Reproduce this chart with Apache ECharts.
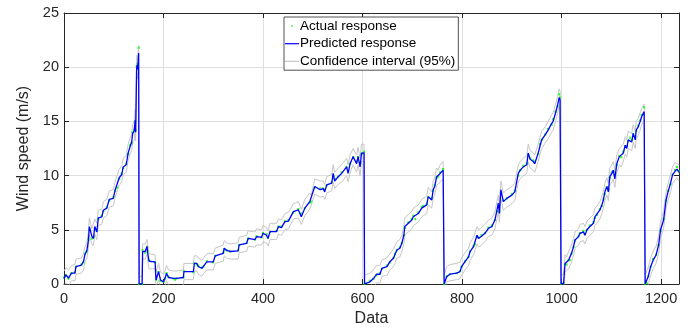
<!DOCTYPE html>
<html>
<head>
<meta charset="utf-8">
<script src="https://cdn.jsdelivr.net/npm/echarts@6/dist/echarts.min.js"></script>
<style>html,body{margin:0;padding:0;background:#fff;}#c{width:697px;height:329px;}</style>
</head>
<body>
<div id="c"></div>
<script>
const xs = [0,4,9,15,22,24,35,39,42,46, 49,51,56,59,62,66,69,76,79,86, 91,99,103,107,111,116,119,125,129,133, 136,138,141,143,144,146,147,148,150,151,
157,158,163,167,168,171,183,185,190,194, 200,203,206,210,220,223,226,240,241,260, 262,267,270,277,280,287,300,304,320,322, 327,334,350,352,367,370,384,387,397,400,
407,410,414,427,431,437,444,451,461,471, 477,484,494,497,504,515,521,524,528,538, 541,544,551,558,568,571,575,581,588,591, 595,598,603,604,607,615,622,628,635,639,
649,655,662,665,669,675,679,683,685,692, 699,702,706,712,719,722,729,732,739,742, 745,749,752,756,762,764,769,776,789,796, 799,806,813,816,823,826,830,833,839,846,
853,860,866,870,873,875,878,883,890,900, 906,913,917,923,930,933,937,943,946,953, 957,960,967,973,980,983,988,992,995,997, 999,1004,1007,1010,1014,1017,1020,1024,1027,1034,
1037,1044,1047,1051,1057,1064,1067,1071,1077,1081, 1084,1087,1091,1094,1097,1101,1104,1107,1111,1116, 1120,1124,1128,1131,1134,1138,1141,1144,1148,1150, 1154,1158,1161,1166,1168,1171,1174,1179,1184,1190,
1195,1199,1205,1210,1214,1219,1223,1228,1232,1236];

const predicted = [0.5,0.85,0.55,1.0,1.0,1.6,1.75,2.05,2.7,3.1, 4.0,5.3,4.4,4.2,5.3,4.8,6.1,6.2,6.8,7.0, 7.8,7.9,8.7,8.8,9.8,10.1,10.8,11.0,12.1,12.7, 13.1,13.9,14.1,15.1,14.0,19.9,20.2,19.8,21.3,0,
0,3.0,3.0,3.45,2.9,2.1,2.05,0.37,1.14,0.37, 0.2,0.52,0.98,0.6,0.52,0.37,0.52,0.6,1.14,1.14, 1.9,1.9,1.6,1.45,1.6,2.05,2.05,2.6,2.83,3.3, 3.1,3.0,3.05,3.6,3.75,4.2,4.1,4.37,4.3,4.68,
4.5,4.2,4.83,4.83,5.3,5.2,5.75,5.8,6.68,6.83, 6.2,7.0,7.6,7.5,9.0,8.7,8.8,8.5,9.14,9.3, 10.2,9.5,9.9,10.2,10.8,10.2,11.1,11.75,11.1,11.75, 10.8,12.07,12.1,0,0.1,0.2,0.5,0.9,0.9,1.45,
1.6,2.06,2.37,2.7,3.14,3.3,3.75,4.5,5.3,5.6, 5.9,6.2,6.1,6.5,7.0,7.0,7.3,8.06,7.75,8.7, 9.0,9.9,9.75,10.2,10.5,0,0.67,0.92,1.0,1.14, 1.6,2.06,2.5,2.98,3.45,3.6,4.5,4.2,4.4,4.68,
5.14,5.3,5.9,6.8,7.45,6.5,8.7,7.6,7.9,8.2, 8.5,10.2,10.5,10.8,11.0,12.07,11.5,11.3,11.1,12.07, 12.8,13.3,13.75,14.2,14.8,15.0,15.8,16.5,17.2,17.0, 0,0.05,1.9,1.75,2.2,2.1,2.83,3.45,4.06,4.37,
4.68,4.8,4.5,5.0,5.3,5.6,6.2,6.37,6.83,7.3, 7.75,8.5,9.0,8.5,9.9,10.2,10.5,9.7,11.1,11.75, 11.6,12.07,12.8,12.5,13.3,13.4,13.1,13.9,13.3,14.2, 14.5,15.0,15.45,15.9,0,0.12,0.67,1.6,2.2,2.68,
3.6,5.0,5.9,7.75,8.5,9.3,10.07,10.4,10.6,10.3];

const actual = [0.6,0.8,0.5,1.0,1.1,1.6,1.8,2.0,2.8,3.0, 4.1,5.0,4.2,4.3,5.1,4.9,6.0,6.3,6.7,7.1, 7.7,8.0,8.6,8.9,9.7,10.2,10.7,11.1,12.0,12.8, 13.0,14.0,14.2,15.0,14.2,20.1,20.0,20.3,21.8,0,
0,3.1,2.9,3.4,3.0,2.2,2.0,0.4,1.1,0.3, 0.2,0.5,1.0,0.7,0.5,0.4,0.5,0.6,1.2,1.1, 1.9,1.8,1.7,1.5,1.6,2.1,2.0,2.6,2.9,3.2, 3.1,3.0,3.1,3.6,3.8,4.2,4.1,4.4,4.3,4.7,
4.6,4.3,4.8,4.9,5.3,5.3,5.8,5.9,6.6,6.9, 6.5,7.0,7.5,7.6,8.9,8.8,8.8,8.7,9.1,9.4, 10.0,9.7,9.9,10.3,10.8,10.4,11.1,11.7,11.3,11.7, 11.2,12.0,12.2,0,0.1,0.3,0.5,0.8,1.0,1.4,
1.7,2.0,2.4,2.8,3.1,3.4,3.8,4.5,5.2,5.7, 6.0,6.3,6.0,6.6,7.1,7.2,7.4,8.0,7.9,8.6, 9.1,9.8,9.9,10.3,10.6,0,0.7,0.9,1.0,1.2, 1.6,2.1,2.5,3.0,3.5,3.7,4.4,4.3,4.5,4.7,
5.2,5.4,5.9,6.7,7.3,6.7,8.4,7.7,7.9,8.3, 8.6,10.0,10.5,10.9,11.1,11.9,11.6,11.4,11.3,12.0, 12.9,13.3,13.8,14.3,14.7,15.2,15.9,16.4,17.5,17.2, 0,0.1,1.8,1.8,2.2,2.2,2.8,3.4,4.0,4.4,
4.7,4.9,4.6,5.0,5.4,5.7,6.1,6.4,6.9,7.2, 7.8,8.3,8.9,8.7,9.8,10.3,10.4,10.0,11.0,11.8, 11.7,12.2,12.7,12.7,13.2,13.5,13.3,13.8,13.5,14.1, 14.6,15.1,15.6,16.3,0,0.1,0.7,1.6,2.3,2.7,
3.6,4.9,6.0,7.7,8.6,9.2,10.1,10.5,10.8,10.4];

const ciUpper = [1.2,1.5,1.3,1.7,1.8,2.3,2.4,2.8,3.4,3.8, 4.8,6.1,5.1,5.0,6.0,5.6,6.8,6.9,7.6,7.8, 8.6,8.7,9.5,9.6,10.6,10.9,11.6,11.8,12.9,13.5, 13.9,14.7,15.0,16.1,14.9,20.8,21.1,20.7,22.0,0.7,
0.7,3.7,3.7,4.1,3.6,2.8,2.7,1.1,1.9,1.1, 0.9,1.2,1.7,1.3,1.2,1.1,1.2,1.3,1.9,1.9, 2.6,2.6,2.4,2.2,2.3,2.8,2.8,3.3,3.6,4.0, 3.8,3.7,3.8,4.3,4.5,4.9,4.8,5.1,5.0,5.4,
5.2,4.9,5.6,5.6,6.0,5.9,6.5,6.6,7.4,7.6, 6.9,7.8,8.4,8.2,9.7,9.5,9.5,9.2,9.9,10.1, 11.0,10.3,10.7,11.0,11.6,11.0,11.9,12.5,11.9,12.6, 11.6,12.9,12.9,0.8,0.8,1.0,1.3,1.7,1.7,2.2,
2.4,2.8,3.2,3.5,3.9,4.1,4.5,5.3,6.1,6.4, 6.7,7.0,6.9,7.3,7.8,7.8,8.1,8.9,8.5,9.5, 9.8,10.7,10.5,11.0,11.3,0.8,1.6,1.8,1.9,2.0, 2.4,2.9,3.3,3.8,4.3,4.4,5.3,5.0,5.2,5.5,
5.9,6.1,6.7,7.6,8.2,7.3,9.5,8.4,8.7,9.0, 9.3,11.0,11.3,11.6,11.8,12.9,12.3,12.1,11.9,12.9, 13.6,14.1,14.5,15.0,15.6,15.8,16.6,17.3,18.0,17.8, 0.8,0.9,2.7,2.5,3.0,2.9,3.6,4.2,4.8,5.1,
5.5,5.6,5.3,5.8,6.1,6.4,7.0,7.2,7.6,8.1, 8.5,9.3,9.8,9.3,10.7,11.0,11.3,10.5,11.9,12.5, 12.4,12.9,13.6,13.3,14.1,14.2,13.9,14.7,14.1,15.0, 15.3,15.8,16.2,16.6,0.8,0.9,1.5,2.4,3.0,3.5,
4.4,5.8,6.7,8.5,9.3,10.1,10.8,11.2,11.3,11.0];

const ciLower = [-0.2,0.1,-0.2,0.3,0.3,0.9,1.0,1.3,2.0,2.4, 3.3,4.5,3.7,3.5,4.6,4.1,5.4,5.5,6.1,6.3, 7.1,7.2,8.0,8.1,9.1,9.4,10.1,10.3,11.4,12.0, 12.3,13.1,13.3,14.2,13.2,19.0,19.3,18.9,20.5,-0.7,
-0.7,2.3,2.3,2.8,2.2,1.4,1.4,-0.3,0.4,-0.3, -0.5,-0.2,0.3,-0.1,-0.2,-0.3,-0.2,-0.1,0.4,0.4, 1.2,1.2,0.9,0.7,0.9,1.3,1.3,1.9,2.1,2.6, 2.4,2.3,2.3,2.9,3.0,3.5,3.4,3.6,3.6,3.9,
3.8,3.5,4.1,4.1,4.6,4.5,5.0,5.1,6.0,6.1, 5.5,6.3,6.9,6.8,8.3,8.0,8.1,7.8,8.4,8.6, 9.4,8.8,9.2,9.4,10.0,9.4,10.3,11.0,10.3,11.0, 10.0,11.3,11.3,-0.7,-0.6,-0.6,-0.3,0.1,0.1,0.7,
0.8,1.3,1.6,1.9,2.4,2.5,3.0,3.7,4.5,4.8, 5.1,5.4,5.3,5.7,6.2,6.2,6.5,7.3,7.0,7.9, 8.2,9.1,9.0,9.4,9.7,-0.7,0.2,0.3,0.4,0.5, 0.8,1.3,1.7,2.2,2.7,2.8,3.7,3.4,3.6,3.9,
4.4,4.5,5.1,6.0,6.7,5.7,7.9,6.8,7.1,7.4, 7.7,9.4,9.7,10.0,10.2,11.3,10.7,10.5,10.3,11.3, 12.0,12.5,13.0,13.4,14.0,14.2,15.0,15.7,16.4,16.2, -0.7,-0.7,1.1,1.0,1.4,1.3,2.0,2.7,3.3,3.6,
3.9,4.0,3.7,4.2,4.5,4.8,5.4,5.6,6.0,6.5, 7.0,7.7,8.2,7.7,9.1,9.4,9.7,8.9,10.3,11.0, 10.8,11.3,12.0,11.7,12.5,12.6,12.3,13.1,12.5,13.4, 13.7,14.2,14.7,15.1,-0.7,-0.6,-0.1,0.8,1.4,1.9,
2.8,4.2,5.1,7.0,7.7,8.5,9.3,9.6,9.8,9.5];

const xTicks = [0,200,400,600,800,1000,1200];
const yTicks = [0,5,10,15,20,25];
const seriesNames = ['Actual response','Predicted response','Confidence interval (95%)'];
const xLabel = 'Data';
const yLabel = 'Wind speed (m/s)';

const pair = arr => xs.map((x, i) => [x, arr[i]]);
const FONT = '"Liberation Sans", Arial, Helvetica, sans-serif';
const TXT = '#262626';

function svgIcon(kind, color) {
  let body;
  if (kind === 'dot') body = '<rect x="6" y="6.2" width="1.6" height="1.6" fill="' + color + '"/>';
  else body = '<rect x="0" y="6.5" width="14" height="1.2" fill="' + color + '"/>';
  const svg = '<svg xmlns="http://www.w3.org/2000/svg" width="14" height="14" viewBox="0 0 14 14">' + body + '</svg>';
  return 'image://data:image/svg+xml;charset=utf-8,' + encodeURIComponent(svg);
}

const chart = echarts.init(document.getElementById('c'), null, {renderer: 'canvas'});
const xMax = 1236;
const baseX = {
  type: 'value', min: 0, max: xMax, interval: 200,
  axisLine: {show: true, onZero: false, lineStyle: {color: TXT, width: 1}},
  axisTick: {show: true, inside: true, length: 5, lineStyle: {color: TXT}},
  splitLine: {show: false}
};
const baseY = {
  type: 'value', min: 0, max: 25, interval: 5,
  axisLine: {show: true, onZero: false, lineStyle: {color: TXT, width: 1}},
  axisTick: {show: true, inside: true, length: 5, lineStyle: {color: TXT}},
  splitLine: {show: false}
};
chart.setOption({
  animation: false,
  backgroundColor: '#fff',
  grid: {left: 64, right: 18, top: 13, bottom: 45, containLabel: false, outerBoundsMode: 'none'},
  xAxis: [
    Object.assign({}, baseX, {
      position: 'bottom',
      name: xLabel, nameLocation: 'middle', nameGap: 26,
      nameTextStyle: {color: TXT, fontSize: 16, fontFamily: FONT},
      axisLabel: {show: true, margin: 7, color: TXT, fontSize: 14.5, fontFamily: FONT, showMaxLabel: false,
        formatter: v => xTicks.indexOf(v) >= 0 ? String(v) : ''},
      splitLine: {show: true, lineStyle: {color: '#dfdfdf', width: 1}}
    }),
    Object.assign({}, baseX, {position: 'top', axisLabel: {show: false}})
  ],
  yAxis: [
    Object.assign({}, baseY, {
      position: 'left',
      name: yLabel, nameLocation: 'middle', nameGap: 32, nameRotate: 90,
      nameTextStyle: {color: TXT, fontSize: 16, fontFamily: FONT},
      axisLabel: {show: true, margin: 5, color: TXT, fontSize: 14.5, fontFamily: FONT,
        formatter: v => yTicks.indexOf(v) >= 0 ? String(v) : ''},
      splitLine: {show: true, lineStyle: {color: '#dfdfdf', width: 1}}
    }),
    Object.assign({}, baseY, {position: 'right', axisLabel: {show: false}})
  ],
  legend: {
    show: true, orient: 'vertical', left: 284, top: 17,
    padding: [2, 3, 2, 1], itemGap: 3.6, itemWidth: 14, itemHeight: 14,
    backgroundColor: '#fff', borderColor: TXT, borderWidth: 0.8, borderRadius: 0,
    textStyle: {color: '#000', fontSize: 13.5, fontFamily: FONT, lineHeight: 14, padding: [0, 0, 0, -4]},
    data: [
      {name: seriesNames[0], icon: svgIcon('dot', '#00ff00')},
      {name: seriesNames[1], icon: svgIcon('line', '#0000ff')},
      {name: seriesNames[2], icon: svgIcon('line', '#c6c6c6')}
    ]
  },
  series: [
    {name: seriesNames[2], type: 'line', data: pair(ciUpper), symbol: 'none', z: 1,
      lineStyle: {color: '#c6c6c6', width: 1}, itemStyle: {color: '#c6c6c6'}},
    {name: seriesNames[2], type: 'line', data: pair(ciLower), symbol: 'none', z: 1,
      lineStyle: {color: '#c6c6c6', width: 1}, itemStyle: {color: '#c6c6c6'}},
    {name: seriesNames[0], type: 'scatter', data: pair(actual), symbol: 'rect', symbolSize: 2.2, z: 2,
      itemStyle: {color: '#00ff00'}},
    {name: seriesNames[1], type: 'line', data: pair(predicted), symbol: 'none', z: 3,
      lineStyle: {color: '#0000ff', width: 1.3}, itemStyle: {color: '#0000ff'}}
  ]
});
</script>
</body>
</html>
